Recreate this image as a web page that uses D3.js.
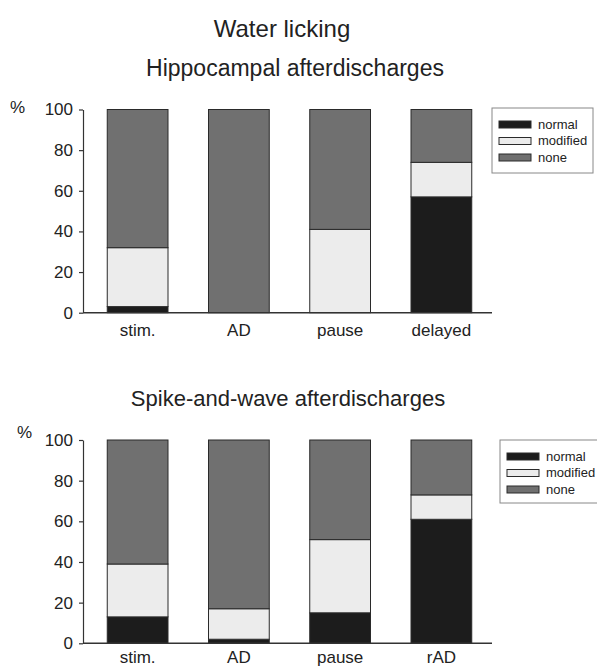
<!DOCTYPE html>
<html><head><meta charset="utf-8">
<script src="https://cdn.jsdelivr.net/npm/d3@7"></script>
<style>
body{margin:0;background:#fff;}
svg text{font-family:"Liberation Sans",Arial,sans-serif;fill:#222;}
</style></head>
<body><svg id="c" width="597" height="668"></svg>
<script>
const seriesKeys = ["normal","modified","none"];
const tickValues = [0,20,40,60,80,100];

const catsTop = ["stim.","AD","pause","delayed"];
const normalTop = [3,0,0,57];
const modifiedTop = [29,0,41,17];
const noneTop = [68,100,59,26];

const catsBot = ["stim.","AD","pause","rAD"];
const normalBot = [13,2,15,61];
const modifiedBot = [26,15,36,12];
const noneBot = [61,83,49,27];

const colors = {normal:"#1c1c1c", modified:"#ececec", none:"#707070"};

const svg = d3.select("#c");

svg.append("text").attr("x",282).attr("y",37).attr("text-anchor","middle")
  .style("font-size","24px").text("Water licking");

function panel(o){
  const g = svg.append("g");
  g.append("text").attr("x",o.titleX).attr("y",o.titleY).attr("text-anchor","middle")
    .style("font-size",o.titleSize+"px").text(o.title);
  const y = d3.scaleLinear().domain([0,100]).range([o.y0,o.y100]);
  const x = d3.scaleBand().domain(o.cats).range([87,492]).paddingInner(0.4).paddingOuter(0.2);
  const rows = o.cats.map((c,i)=>({cat:c, normal:o.normal[i], modified:o.modified[i], none:o.none[i]}));
  const stack = d3.stack().keys(seriesKeys)(rows);
  stack.forEach(s=>{
    g.selectAll(null).data(s).join("rect")
      .attr("x",d=>x(d.data.cat)).attr("width",x.bandwidth())
      .attr("y",d=>y(d[1])).attr("height",d=>y(d[0])-y(d[1]))
      .attr("fill",colors[s.key]).attr("stroke","#2a2a2a").attr("stroke-width",1);
  });
  const ya = g.append("g").attr("transform",`translate(83,0)`)
    .call(d3.axisLeft(y).tickValues(tickValues).tickSize(4).tickSizeOuter(0).tickPadding(6));
  ya.selectAll("text").style("font-size","17px");
  ya.selectAll("line,path").attr("stroke","#333").attr("stroke-width",1.2);
  const xa = g.append("g").attr("transform",`translate(0,${o.y0})`)
    .call(d3.axisBottom(x).tickSize(0).tickPadding(o.labPad));
  xa.select(".domain").remove();
  xa.selectAll("text").style("font-size","17px");
  g.append("line").attr("x1",83).attr("x2",x.range()[1]).attr("y1",o.y0).attr("y2",o.y0)
    .attr("stroke","#333").attr("stroke-width",1.4);
  g.append("text").attr("x",o.pctX).attr("y",o.pctY).style("font-size","17px").text("%");
  const L = o.legend;
  g.append("rect").attr("x",L.x).attr("y",L.y).attr("width",L.w).attr("height",L.h)
    .attr("fill","#fff").attr("stroke","#888").attr("stroke-width",1);
  seriesKeys.forEach((k,i)=>{
    g.append("rect").attr("x",L.x+7).attr("y",L.y+13+i*16.5).attr("width",32).attr("height",7)
      .attr("fill",colors[k]).attr("stroke","#2a2a2a").attr("stroke-width",1);
    g.append("text").attr("x",L.x+46).attr("y",L.y+20.5+i*16.5).style("font-size","13px").text(k);
  });
}

panel({title:"Hippocampal afterdischarges", titleX:295, titleY:76, titleSize:23, cats:catsTop,
  normal:normalTop, modified:modifiedTop, none:noneTop, y0:312.7, y100:109.5, labPad:11,
  pctX:10, pctY:113, legend:{x:492,y:108,w:101,h:65}});
panel({title:"Spike-and-wave afterdischarges", titleX:288, titleY:406, titleSize:22, cats:catsBot,
  normal:normalBot, modified:modifiedBot, none:noneBot, y0:643.3, y100:440, labPad:8,
  pctX:17, pctY:438, legend:{x:500,y:440,w:110,h:63}});
</script></body></html>
